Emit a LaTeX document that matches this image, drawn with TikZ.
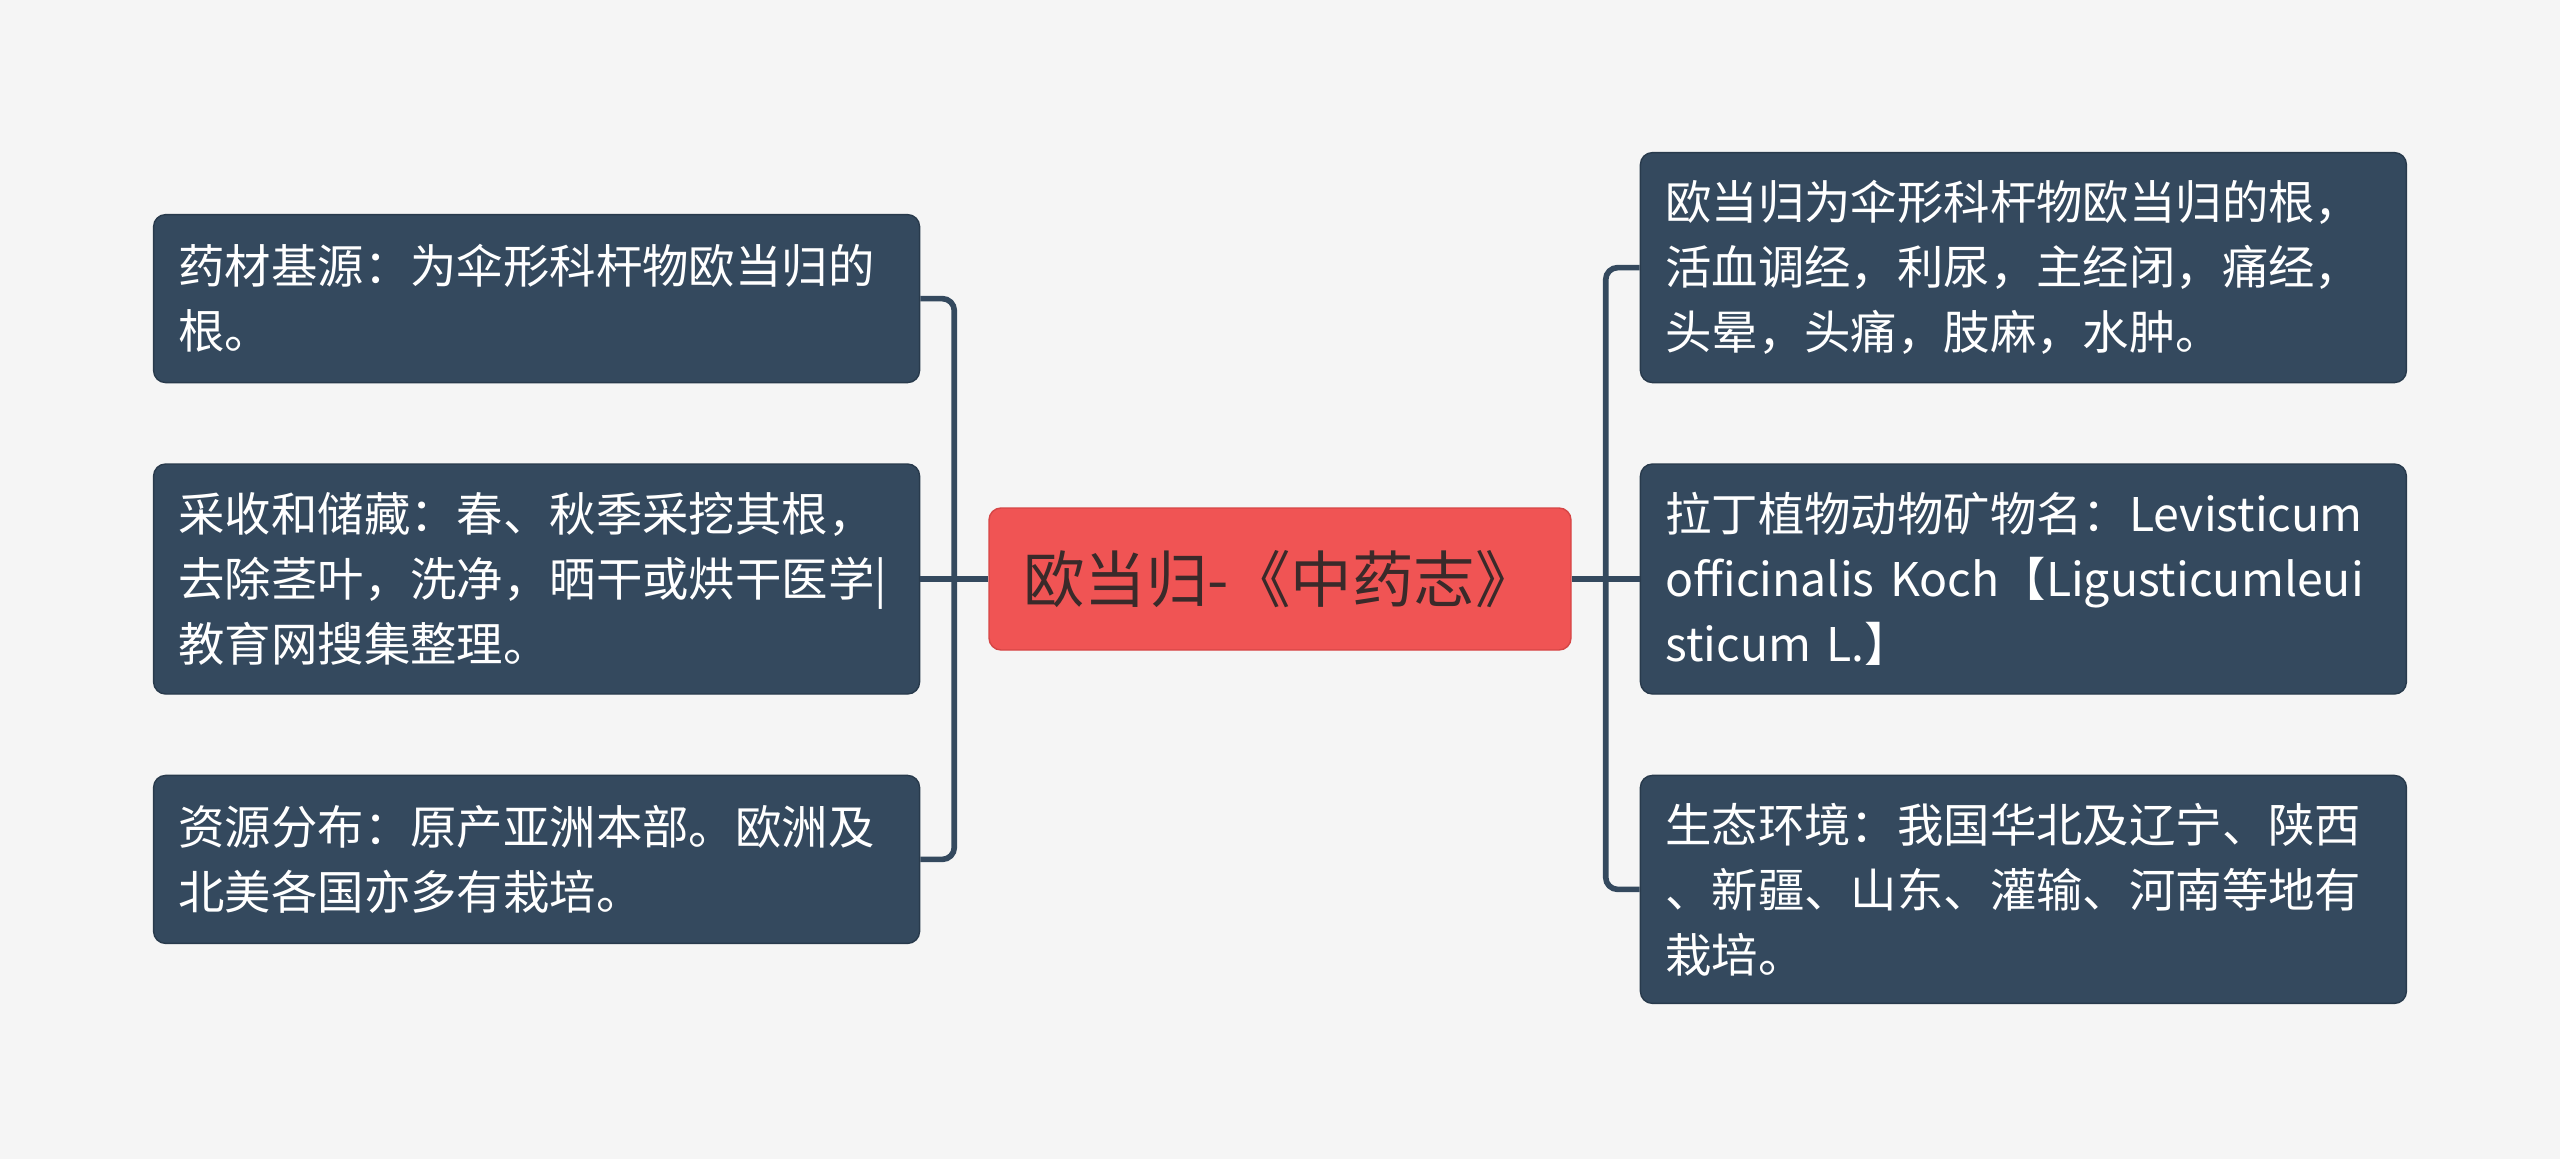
\documentclass[tikz,border=0pt]{standalone}
\usepackage{fontspec}
\setmainfont{Noto Sans CJK SC}
\usetikzlibrary{calc,positioning}
\definecolor{PaperGray}{RGB}{245,245,245}
\definecolor{SlateBlue}{RGB}{52,73,94}
\definecolor{SlateEdge}{RGB}{40,58,76}
\definecolor{TopicRed}{RGB}{240,84,84}
\definecolor{TopicEdge}{RGB}{214,70,70}
\definecolor{TopicInk}{RGB}{58,42,42}

\begin{document}
\begin{tikzpicture}[node distance=8mm,
  leaf/.style={draw=SlateEdge,fill=SlateBlue,text=white,rounded corners=1.2mm,line width=0.4pt,
    text width=7.16cm,inner xsep=0.25cm,align=left,font=\fontsize{13.2}{18.5}\selectfont},
  link/.style={draw=SlateBlue,line width=1.6pt,rounded corners=1.2mm}]
\fill[PaperGray] (0,0) rectangle (25.6,11.59);
\node[draw=TopicEdge,fill=TopicRed,text=TopicInk,rounded corners=1.2mm,minimum width=5.82cm,minimum height=1.42cm,
  font=\fontsize{17.5}{20}\selectfont] (root) at (12.80,5.80) {欧当归-《中药志》};
% left side
\node[leaf,minimum height=2.30cm,left=6.8mm of root] (harvest) {采收和储藏：春、秋季采挖其根，\\去除茎叶，洗净，晒干或烘干医学|\\教育网搜集整理。};
\node[leaf,minimum height=1.68cm,above=of harvest] (source) {药材基源：为伞形科杆物欧当归的\\根。};
\node[leaf,minimum height=1.68cm,below=of harvest] (spread) {资源分布：原产亚洲本部。欧洲及\\北美各国亦多有栽培。};
% right side
\node[leaf,minimum height=2.30cm,right=6.8mm of root] (latin) {拉丁植物动物矿物名：Levisticum\\officinalis Koch【Ligusticumleui\\sticum L.】};
\node[leaf,minimum height=2.30cm,above=of latin] (usage) {欧当归为伞形科杆物欧当归的根，\\活血调经，利尿，主经闭，痛经，\\头晕，头痛，肢麻，水肿。};
\node[leaf,minimum height=2.28cm,below=of latin] (habitat) {生态环境：我国华北及辽宁、陕西\\、新疆、山东、灌输、河南等地有\\栽培。};
\coordinate (ljoin) at ($(root.west)!0.5!(harvest.east)$);
\coordinate (rjoin) at ($(root.east)!0.5!(latin.west)$);
\draw[link] (source.east) -| (ljoin) |- (spread.east);
\draw[link] (root.west) -- (harvest.east);
\draw[link] (usage.west) -| (rjoin) |- (habitat.west);
\draw[link] (root.east) -- (latin.west);
\end{tikzpicture}
\end{document}
